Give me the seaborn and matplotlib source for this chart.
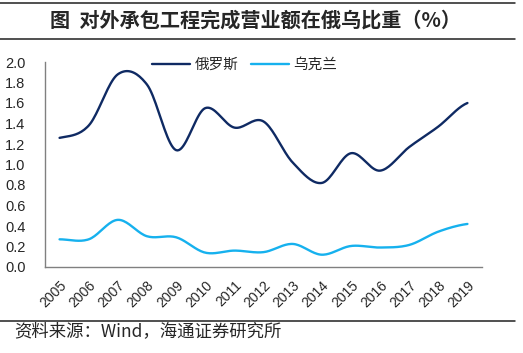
import numpy as np
import pandas as pd
import matplotlib
matplotlib.use("Agg")
import matplotlib.pyplot as plt
import matplotlib.transforms as mtransforms
import seaborn as sns

# data
years = ["2005", "2006", "2007", "2008", "2009", "2010", "2011", "2012",
         "2013", "2014", "2015", "2016", "2017", "2018", "2019"]
russia = [1.26, 1.38, 1.88, 1.78, 1.14, 1.55, 1.36, 1.42,
          1.02, 0.82, 1.11, 0.94, 1.17, 1.37, 1.60]
ukraine = [0.27, 0.27, 0.46, 0.30, 0.29, 0.14, 0.16, 0.145,
           0.225, 0.12, 0.205, 0.19, 0.215, 0.345, 0.42]
series_names = ["俄罗斯", "乌克兰"]
colors = ["#0f2a63", "#16b1ee"]
yticks = [0.0, 0.2, 0.4, 0.6, 0.8, 1.0, 1.2, 1.4, 1.6, 1.8, 2.0]


def smooth(xs, ys, n=20):
    # catmull-rom style smoothing, like excel's "smoothed line"
    xs = np.asarray(xs, float)
    ys = np.asarray(ys, float)
    px = np.concatenate([[2 * xs[0] - xs[1]], xs, [2 * xs[-1] - xs[-2]]])
    py = np.concatenate([[ys[0]], ys, [ys[-1]]])
    out_x, out_y = [], []
    for i in range(1, len(px) - 2):
        t = np.linspace(0, 1, n, endpoint=False)
        for arr, src in ((out_x, px), (out_y, py)):
            p0, p1, p2, p3 = src[i - 1], src[i], src[i + 1], src[i + 2]
            m1 = (p2 - p0) / 2
            m2 = (p3 - p1) / 2
            h00 = 2 * t**3 - 3 * t**2 + 1
            h10 = t**3 - 2 * t**2 + t
            h01 = -2 * t**3 + 3 * t**2
            h11 = t**3 - t**2
            arr.extend(h00 * p1 + h10 * m1 + h01 * p2 + h11 * m2)
    out_x.append(xs[-1])
    out_y.append(ys[-1])
    return np.array(out_x), np.array(out_y)


sns.set_style("white")
plt.rcParams['font.family'] = ['Liberation Sans', 'Noto Sans CJK SC', 'DejaVu Sans']

fig = plt.figure(figsize=(5.23, 3.53), dpi=100)
ax = fig.add_axes([45 / 523, 1 - 267 / 353, 437 / 523, 205 / 353])

xpos = np.arange(len(years))
frames = []
for name, vals in zip(series_names, [russia, ukraine]):
    sx, sy = smooth(xpos, vals)
    frames.append(pd.DataFrame({"x": sx, "y": sy, "series": name}))
df = pd.concat(frames, ignore_index=True)

sns.lineplot(data=df, x="x", y="y", hue="series", palette=colors,
             linewidth=1.7, sort=False, estimator=None, ax=ax)

ax.set_xlim(-0.5, len(years) - 0.5)
ax.set_ylim(0, 2.0)
ax.set_yticks(yticks)
ax.set_yticklabels([f"{v:.1f}" for v in yticks], fontsize=10.5)
ax.set_xticks(np.arange(-0.5, len(years), 1.0))
ax.set_xticklabels([])
ax.set_xticks(xpos, minor=True)
ax.set_xticklabels(years, minor=True, rotation=45, ha="right",
                   rotation_mode="anchor", fontsize=10)
shift = mtransforms.ScaledTranslation(3 / 100, 0, fig.dpi_scale_trans)
for lab in ax.get_xticklabels(minor=True):
    lab.set_transform(lab.get_transform() + shift)
ax.tick_params(axis="x", which="minor", length=0, pad=8)
ax.tick_params(axis="both", which="major", length=4, width=1,
               color="#808080", direction="out")
ax.tick_params(axis="y", pad=10)
ax.set_xlabel("")
ax.set_ylabel("")
for side in ["top", "right"]:
    ax.spines[side].set_visible(False)
for side in ["left", "bottom"]:
    ax.spines[side].set_color("#808080")
    ax.spines[side].set_linewidth(1)

leg = ax.legend(loc="center left", bbox_to_anchor=(152 / 523, 1 - 65 / 353),
                bbox_transform=fig.transFigure, ncol=2, frameon=False,
                borderpad=0, borderaxespad=0, handlelength=2.6,
                columnspacing=0.9, handletextpad=0.3,
                prop={"family": "Noto Sans CJK SC", "size": 10.5})

# title and source with rules
fig.text(255 / 523, 1 - 20 / 353, "图  对外承包工程完成营业额在俄乌比重（%）",
         ha="center", va="center", fontsize=14.5, fontweight="bold",
         family=["Noto Sans CJK SC", "DejaVu Sans"])
for yy in [3, 39, 321]:
    fig.add_artist(plt.Line2D([0, 515 / 523], [1 - yy / 353, 1 - yy / 353],
                              color="#202020", linewidth=1.1))
fig.text(14 / 523, 1 - 331 / 353, "资料来源：Wind，海通证券研究所",
         ha="left", va="center", fontsize=12.5,
         family=["Noto Sans CJK SC", "DejaVu Sans"])

fig.savefig("out.png", dpi=100)
